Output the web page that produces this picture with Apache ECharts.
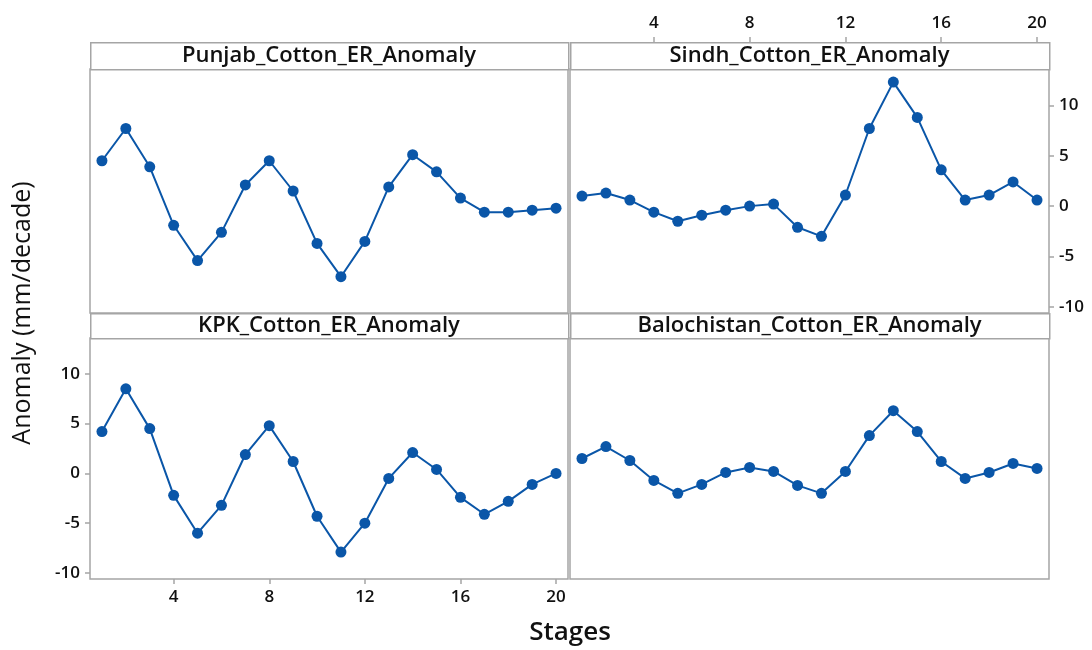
<!DOCTYPE html>
<html>
<head>
<meta charset="utf-8">
<script src="https://cdn.jsdelivr.net/npm/echarts@6/dist/echarts.min.js"></script>
<style>
  html, body { margin: 0; padding: 0; background: #fff; }
  #main { width: 1092px; height: 650px; }
</style>
</head>
<body>
<div id="main"></div>
<script>
// stages (x values)
var stages = [1, 2, 3, 4, 5, 6, 7, 8, 9, 10, 11, 12, 13, 14, 15, 16, 17, 18, 19, 20];

// anomaly values
var punjab = [4.5, 7.7, 3.9, -1.9, -5.4, -2.6, 2.1, 4.5, 1.5, -3.7, -7.0, -3.5, 1.9, 5.1, 3.4, 0.8, -0.6, -0.6, -0.4, -0.2];
var sindh = [1.0, 1.3, 0.6, -0.6, -1.5, -0.9, -0.4, 0.0, 0.2, -2.1, -3.0, 1.1, 7.7, 12.3, 8.8, 3.6, 0.6, 1.1, 2.4, 0.6];
var kpk = [4.2, 8.5, 4.5, -2.2, -6.0, -3.2, 1.9, 4.8, 1.2, -4.3, -7.9, -5.0, -0.5, 2.1, 0.4, -2.4, -4.1, -2.8, -1.1, 0.0];
var balochistan = [1.5, 2.7, 1.3, -0.7, -2.0, -1.1, 0.1, 0.6, 0.2, -1.2, -2.0, 0.2, 3.8, 6.3, 4.2, 1.2, -0.5, 0.1, 1.0, 0.5];

var panelNames = ['Punjab_Cotton_ER_Anomaly', 'Sindh_Cotton_ER_Anomaly', 'KPK_Cotton_ER_Anomaly', 'Balochistan_Cotton_ER_Anomaly'];
var xTicks = [4, 8, 12, 16, 20];
var yTicks = [-10, -5, 0, 5, 10];

(function () {
    var myChart = echarts.init(document.getElementById('main'));
    var gray = '#a5a5a5';
    var blue = '#0a56a8';
    var font = '"Open Sans", "Noto Sans", sans-serif';

    // panel boxes [left, top, width, height]
    var boxes = [
        [90, 69, 478, 244],
        [570, 69, 479, 244],
        [90, 338, 478, 241],
        [570, 338, 479, 241]
    ];
    var strips = [
        [90, 42, 478, 27],
        [570, 42, 479, 27],
        [90, 313, 478, 25],
        [570, 313, 479, 25]
    ];

    function pairs(vals) {
        return stages.map(function (s, i) { return [s, vals[i]]; });
    }

    var grids = boxes.map(function (b) {
        return {
            left: b[0], top: b[1], width: b[2], height: b[3],
            show: true, borderColor: gray, borderWidth: 1.5, backgroundColor: '#fff'
        };
    });

    function xAxis(idx, showIt, pos, offset) {
        return {
            type: 'value', gridIndex: idx, min: 0.5, max: 20.5,
            position: pos, offset: offset || 0,
            splitLine: { show: false },
            axisLine: { show: false, onZero: false },
            axisTick: { show: showIt, length: 5, lineStyle: { color: gray, width: 1.5 }, customValues: xTicks },
            axisLabel: { show: showIt, customValues: xTicks, color: '#111', fontSize: 17, fontWeight: 600, fontFamily: font, margin: 10 }
        };
    }
    function yAxis(idx, showIt, pos) {
        return {
            type: 'value', gridIndex: idx, min: -10.6, max: 13.6,
            position: pos,
            splitLine: { show: false },
            axisLine: { show: false, onZero: false },
            axisTick: { show: showIt, length: 5, lineStyle: { color: gray, width: 1.5 }, customValues: yTicks },
            axisLabel: { show: showIt, customValues: yTicks, color: '#111', fontSize: 17, fontWeight: 600, fontFamily: font, margin: 10 }
        };
    }

    var graphics = [];
    strips.forEach(function (s, i) {
        graphics.push({
            type: 'rect', left: s[0], top: s[1],
            shape: { width: s[2], height: s[3] },
            style: { fill: '#fff', stroke: gray, lineWidth: 1.5 }
        });
        graphics.push({
            type: 'text', x: s[0] + s[2] / 2, y: s[1] + s[3] / 2,
            style: {
                text: panelNames[i], fill: '#111', font: '600 22px ' + font,
                textAlign: 'center', textVerticalAlign: 'middle'
            }
        });
    });

    function lineSeries(name, vals, idx) {
        return {
            name: name, type: 'line', xAxisIndex: idx, yAxisIndex: idx,
            data: pairs(vals),
            symbol: 'circle', symbolSize: 11,
            itemStyle: { color: blue },
            lineStyle: { color: blue, width: 2 },
            animation: false
        };
    }

    var option = {
        animation: false,
        grid: grids,
        xAxis: [
            xAxis(0, false, 'bottom'),
            xAxis(1, true, 'top', 27),
            xAxis(2, true, 'bottom'),
            xAxis(3, false, 'bottom')
        ],
        yAxis: [
            yAxis(0, false, 'left'),
            yAxis(1, true, 'right'),
            yAxis(2, true, 'left'),
            yAxis(3, false, 'left')
        ],
        graphic: graphics.concat([
            {
                type: 'text', x: 23, y: 313, rotation: Math.PI / 2,
                style: { text: 'Anomaly (mm/decade)', fill: '#111', font: '500 25px ' + font, textAlign: 'center', textVerticalAlign: 'middle' }
            },
            {
                type: 'text', x: 570, y: 633,
                style: { text: 'Stages', fill: '#111', font: '600 26px ' + font, textAlign: 'center', textVerticalAlign: 'middle' }
            }
        ]),
        series: [
            lineSeries(panelNames[0], punjab, 0),
            lineSeries(panelNames[1], sindh, 1),
            lineSeries(panelNames[2], kpk, 2),
            lineSeries(panelNames[3], balochistan, 3)
        ]
    };

    myChart.setOption(option);
    window.addEventListener('resize', function () { myChart.resize(); });
})();
</script>
</body>
</html>
